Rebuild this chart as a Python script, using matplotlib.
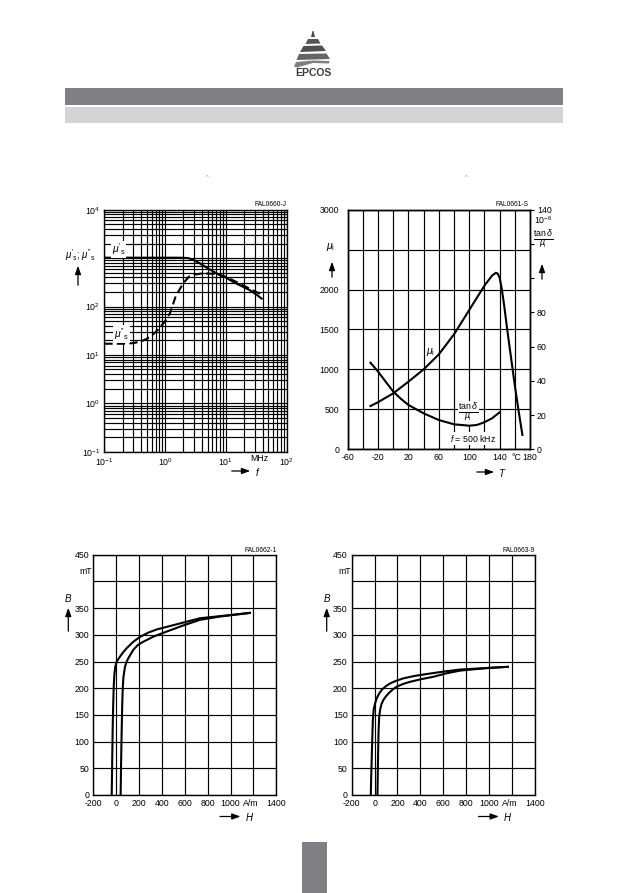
"""EPCOS ferrite datasheet page: permeability vs f, mu_i / tan(delta) vs T, two B-H loops."""
import matplotlib

matplotlib.use("Agg")
import matplotlib.pyplot as plt  # noqa: E402
from matplotlib.patches import FancyArrowPatch, Polygon, Rectangle  # noqa: E402
from matplotlib.ticker import LogLocator, NullFormatter  # noqa: E402

plt.rcParams["font.family"] = ["Liberation Sans", "DejaVu Sans"]
plt.rcParams["mathtext.fontset"] = "custom"
plt.rcParams["mathtext.rm"] = "Liberation Sans"
plt.rcParams["mathtext.it"] = "Liberation Sans:italic"
plt.rcParams["mathtext.bf"] = "Liberation Sans:bold"

W, H = 630, 893
FS = 6.3
FM = 7.5  # size of the mu / tan(delta) symbol labels

# --- data: complex permeability vs frequency (MHz)
f_real = [0.1, 0.5, 1.0, 1.5, 2.0, 2.4, 3.0, 3.7, 5.0, 7.0, 10, 13, 18, 24.5, 32, 40]
mu_real = [1020, 1020, 1020, 1020, 1015, 1000, 900, 782, 620, 485, 395, 325, 265, 219, 175, 141]
f_imag = [0.1, 0.2, 0.3, 0.4, 0.5, 0.6, 0.8, 1.0, 1.2, 1.5, 2.0, 2.5, 3.0, 4.0, 5.0,
          7.0, 10, 15, 20, 30, 38]
mu_imag = [17, 17, 17.5, 19, 21.5, 25, 35, 50, 72, 165, 305, 420, 455, 480, 480,
           470, 410, 320, 265, 205, 180]

# --- data: initial permeability and loss factor vs temperature (degC)
T_mu = [-30, -20, 0, 20, 40, 60, 80, 100, 120, 130, 135, 137.5, 140, 143, 146, 150,
        155, 160, 165, 170]
mu_i = [542, 590, 701, 847, 1001, 1189, 1440, 1744, 2049, 2174, 2210, 2200, 2150, 2000,
        1800, 1500, 1150, 800, 480, 180]
T_tan = [-30, -20, -10, 0, 10, 20, 40, 60, 80, 100, 110, 120, 130, 140]
tan_mu = [50.6, 45.4, 39.5, 33.7, 29.5, 25.9, 21, 17.1, 14.6, 13.8, 14.2, 15.8, 18.1, 21.6]

# --- data: hysteresis loops (A/m, mT), 25 degC and 100 degC
H25_down = [-39, -35, -31, -26, -21, -16, -8, 5, 33, 60, 92, 150, 208, 280, 354, 499,
            732, 1000, 1169]
B25_down = [0, 60, 120, 170, 205, 225, 240, 250, 259, 267, 275, 287, 296, 304, 310, 318,
            331, 337, 341]
H25_up = [39, 43, 48, 53, 57, 63, 77, 90, 106, 150, 190, 237, 330, 441, 580, 732, 900, 1169]
B25_up = [0, 60, 120, 170, 197, 220, 240, 249, 256, 272, 281, 287, 297, 306, 317, 328, 334,
          341]
H100_down = [-33, -30, -26, -21, -15, -8, 5, 19, 40, 63, 100, 136, 190, 253, 350, 458, 600,
             750, 1000, 1165]
B100_down = [0, 30, 60, 100, 140, 160, 172, 181, 190, 197, 204, 209, 214, 218.5, 223, 226.6,
             231, 235, 238, 240]
H100_up = [25, 28, 31, 35, 40, 48, 60, 77, 100, 121, 155, 195, 250, 311, 410, 516, 630, 750,
           1000, 1165]
B100_up = [0, 40, 80, 120, 145, 159, 170, 178, 185, 190, 197, 203, 208, 212, 217, 221.5,
           228, 233, 238, 240]

fig = plt.figure(figsize=(W / 100, H / 100), dpi=100)


def px(x, y):
    return x / W, 1 - y / H


def axes_px(x0, y0, x1, y1):
    return fig.add_axes([x0 / W, 1 - y1 / H, (x1 - x0) / W, (y1 - y0) / H])


def text(x, y, s, **kw):
    kw.setdefault("fontsize", FS)
    kw.setdefault("ha", "center")
    kw.setdefault("va", "center")
    fig.text(*px(x, y), s, **kw)


def arrow(x0, y0, x1, y1):
    fig.add_artist(FancyArrowPatch(px(x0, y0), px(x1, y1), transform=fig.transFigure,
                                   arrowstyle="-|>,head_length=5,head_width=1.8",
                                   mutation_scale=1, lw=0.9, color="k"))


def style(ax):
    for s in ax.spines.values():
        s.set_linewidth(1.0)
    ax.tick_params(length=0, labelsize=FS, pad=3)
    ax.grid(True, which="both", color="k", lw=0.85)
    ax.set_axisbelow(True)


# ---------------- header / footer ----------------
fig.add_artist(Rectangle(px(65, 104.7), 498 / W, 16.7 / H, transform=fig.transFigure,
                         color="#808084", lw=0))
fig.add_artist(Rectangle(px(65, 122.7), 498 / W, 15.7 / H, transform=fig.transFigure,
                         color="#d3d4d6", lw=0))
fig.add_artist(Rectangle(px(302, 893), 24.7 / W, 51 / H, transform=fig.transFigure,
                         color="#808084", lw=0))
logo = [
    [(312.5, 31), (313.5, 31), (315, 37), (311, 37)],
    [(308, 39), (318, 39), (320.5, 43.5), (305.5, 44)],
    [(303.5, 46), (322, 45.5), (326, 51), (300, 52)],
    [(299, 54), (326.5, 53.5), (330, 59), (296.5, 60)],
    [(296, 62), (313, 60.5), (329.5, 61), (329, 63.5), (313, 63), (297, 67.5), (294, 66.5)],
]
shades = ["#4a4a4a", "#555555", "#505050", "#656565", "#808080"]
for pts, c in zip(logo, shades):
    fig.add_artist(Polygon([px(*p) for p in pts], closed=True, transform=fig.transFigure,
                           color=c, lw=0))
text(313.5, 73, "EPCOS", fontsize=7.5, fontweight="bold", color="#3a3a3a")
text(207.7, 177.5, "^", fontsize=4, color="#888888")
text(466, 177.5, "^", fontsize=4, color="#888888")

# ---------------- permeability vs frequency ----------------
ax1 = axes_px(104.3, 209.7, 286.7, 451.7)
ax1.set_xscale("log")
ax1.set_yscale("log")
ax1.set_xlim(0.1, 100)
ax1.set_ylim(0.1, 1e4)
ax1.set_xticks([0.1, 1, 10, 100], ["$10^{-1}$", "$10^{0}$", "$10^{1}$", "$10^{2}$"])
ax1.set_yticks([0.1, 1, 10, 100, 1000, 1e4],
               ["$10^{-1}$", "$10^{0}$", "$10^{1}$", "$10^{2}$", "", "$10^{4}$"])
ax1.xaxis.set_minor_locator(LogLocator(base=10, subs=range(2, 10)))
ax1.yaxis.set_minor_locator(LogLocator(base=10, subs=range(2, 10)))
ax1.xaxis.set_minor_formatter(NullFormatter())
ax1.yaxis.set_minor_formatter(NullFormatter())
style(ax1)
ax1.tick_params(which="both", length=0)
ax1.plot(f_real, mu_real, color="k", lw=1.5, solid_capstyle="butt")
ax1.plot(f_imag, mu_imag, color="k", lw=1.5, ls=(0, (4, 2)))
ax1.text(0.17, 1500, r"$\mu'_{\rm s}$", fontsize=FM, ha="center", va="center",
         bbox=dict(fc="white", ec="none", pad=0.6))
ax1.text(0.19, 27, r"$\mu''_{\rm s}$", fontsize=FM, ha="center", va="center",
         bbox=dict(fc="white", ec="none", pad=0.6))
ax1.text(35, 0.09, "MHz", fontsize=FS, ha="center", va="top", clip_on=False)
text(286.7, 204, "FAL0660-J", fontsize=4.8, ha="right")
text(80, 255, r"$\mu'_{\rm s}$; $\mu''_{\rm s}$", fontsize=7)
arrow(78, 288, 78, 263)
arrow(229, 471, 253, 471)
text(258, 471.5, "$f$", fontsize=7)

# ---------------- mu_i and tan(delta)/mu_i vs temperature ----------------
ax2 = axes_px(347.7, 209.7, 530, 449.3)
ax2.set_xlim(-60, 180)
ax2.set_ylim(0, 3000)
ax2.set_xticks(range(-60, 181, 20),
               ["-60", "", "-20", "", "20", "", "60", "", "100", "", "140", "", "180"])
ax2.set_yticks(range(0, 3001, 500), ["0", "500", "1000", "1500", "2000", "", "3000"])
style(ax2)
ax2.tick_params(axis="y", pad=6)
ax2.plot(T_mu, mu_i, color="k", lw=1.5)
axr = ax2.twinx()
axr.set_ylim(0, 140)
axr.set_yticks(range(0, 141, 20), ["0", "20", "40", "60", "80", "", "", "140"])
axr.tick_params(direction="out", length=3, width=0.8, labelsize=FS, pad=2)
for s in axr.spines.values():
    s.set_linewidth(1.0)
axr.plot(T_tan, tan_mu, color="k", lw=1.5)
ax2.text(49, 1215, r"$\mu_{\rm i}$", fontsize=FM, ha="center", va="center")
ax2.text(99, 455, r"$\frac{\tan\delta}{\mu_{\rm i}}$", fontsize=9, ha="center",
         va="center", bbox=dict(fc="white", ec="none", pad=0.5))
ax2.text(105, 135, "$f$ = 500 kHz", fontsize=FS, ha="center", va="center",
         bbox=dict(fc="white", ec="none", pad=0.5))
ax2.text(162, -45, "°C", fontsize=FS, ha="center", va="top", clip_on=False)
text(528, 204, "FAL0661-S", fontsize=4.8, ha="right")
text(331, 247, r"$\mu_{\rm i}$", fontsize=FM)
arrow(332, 280, 332, 259)
text(543, 220, "$10^{-6}$")
text(543, 240, r"$\frac{\tan\delta}{\mu_{\rm i}}$", fontsize=9)
arrow(542, 282, 542, 261)
arrow(474, 472, 497, 472)
text(502, 472.5, "$T$", fontsize=7)

# ---------------- hysteresis loops ----------------
loops = [
    (93.3, H25_down, B25_down, H25_up, B25_up, "FAL0662-1"),
    (351.7, H100_down, B100_down, H100_up, B100_up, "FAL0663-9"),
]
for left, hd, bd, hu, bu, code in loops:
    right = left + 183
    ax = axes_px(left, 554.7, right, 795)
    ax.set_xlim(-200, 1400)
    ax.set_ylim(0, 450)
    ax.set_xticks(range(-200, 1401, 200),
                  ["-200", "0", "200", "400", "600", "800", "1000", "", "1400"])
    ax.set_yticks(range(0, 451, 50),
                  ["0", "50", "100", "150", "200", "250", "300", "350", "", "450"])
    style(ax)
    ax.plot(hd, bd, color="k", lw=1.5)
    ax.plot(hu, bu, color="k", lw=1.5)
    ax.text(1180, -7, "A/m", fontsize=FS, ha="center", va="top", clip_on=False)
    ax.text(-265, 418, "mT", fontsize=FS, ha="center", va="center", clip_on=False)
    text(right, 550, code, fontsize=4.8, ha="right")
    bx = left - 25
    text(bx, 598, "$B$", fontsize=7)
    arrow(bx, 634, bx, 605)
    arrow(right - 59, 816.5, right - 33, 816.5)
    text(right - 27, 817, "$H$", fontsize=7)

fig.savefig("out.png", dpi=100)
